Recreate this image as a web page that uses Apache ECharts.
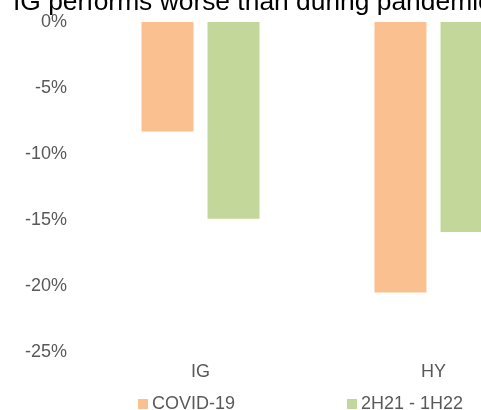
<!DOCTYPE html>
<html>
<head>
<meta charset="utf-8">
<script src="https://cdn.jsdelivr.net/npm/echarts@6/dist/echarts.min.js"></script>
<style>
    html, body {margin: 0; padding: 0; background: #fff;}
    #chart {width: 481px; height: 410px;}
</style>
</head>
<body>
<div id="chart"></div>
<script>
// 数据
var categories = ['IG', 'HY'];
var seriesNames = ['COVID-19', '2H21 - 1H22'];
var covidValues = [-8.3, -20.5];   // %
var recentValues = [-14.9, -15.9]; // %
var titleText = 'IG performs worse than during pandemic';

var font = 'Liberation Sans, Arial, sans-serif';
var chart = echarts.init(document.getElementById('chart'));
var option = {
    animation: false,
    title: {
        text: titleText,
        left: 13,
        top: -10,
        padding: 0,
        textStyle: {fontFamily: font, fontSize: 26.4, fontWeight: 'normal', color: '#000'}
    },
    legend: {
        data: seriesNames,
        left: 138,
        top: 395,
        padding: 0,
        itemWidth: 10,
        itemHeight: 10,
        itemGap: 112,
        icon: 'rect',
        textStyle: {fontFamily: font, fontSize: 18, color: '#595959', padding: [0, 0, 0, -1]}
    },
    grid: {
        left: 84,
        right: -69,
        top: 22,
        bottom: 58,
        containLabel: false,
        outerBoundsMode: 'none'
    },
    xAxis: {
        type: 'category',
        data: categories,
        position: 'bottom',
        axisLine: {show: false},
        axisTick: {show: false},
        axisLabel: {fontFamily: font, fontSize: 18, color: '#595959', margin: 11}
    },
    yAxis: {
        type: 'value',
        min: -25,
        max: 0,
        interval: 5,
        axisLine: {show: false},
        axisTick: {show: false},
        splitLine: {show: false},
        axisLabel: {
            fontFamily: font, fontSize: 18, color: '#595959', margin: 17,
            formatter: function (v) { return v + '%'; }
        }
    },
    series: [
        {
            name: seriesNames[0],
            type: 'bar',
            data: covidValues,
            barWidth: 52,
            barGap: '27%',
            itemStyle: {color: '#FAC090'}
        },
        {
            name: seriesNames[1],
            type: 'bar',
            data: recentValues,
            barWidth: 52,
            itemStyle: {color: '#C4D79B'}
        }
    ]
};
chart.setOption(option);
</script>
</body>
</html>
